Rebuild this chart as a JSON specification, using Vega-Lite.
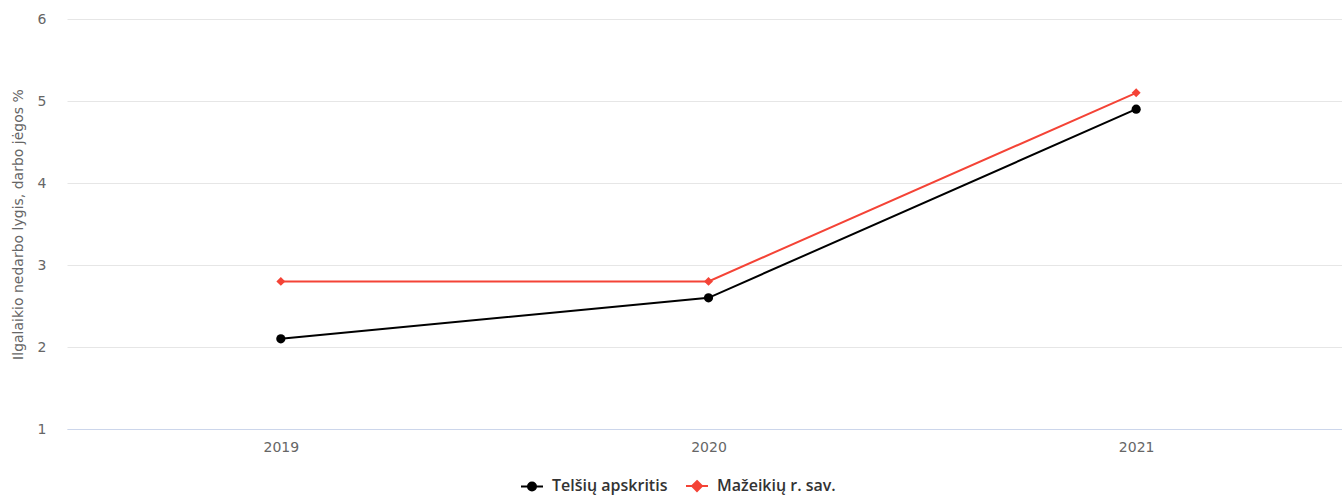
{
  "$schema": "https://vega.github.io/schema/vega-lite/v6.json",
  "autosize": {"type": "none"},
  "padding": {"left": 67, "top": 19, "right": 0, "bottom": 68},
  "width": 1283,
  "height": 410,
  "config": {
    "view": {"stroke": null},
    "font": "DejaVu Sans",
    "axis": {"labelFont": "DejaVu Sans", "titleFont": "DejaVu Sans"}
  },
  "data": {
    "values": [
      {"year": "2019", "series": "Telšių apskritis", "value": 2.1},
      {"year": "2020", "series": "Telšių apskritis", "value": 2.6},
      {"year": "2021", "series": "Telšių apskritis", "value": 4.9},
      {"year": "2019", "series": "Mažeikių r. sav.", "value": 2.8},
      {"year": "2020", "series": "Mažeikių r. sav.", "value": 2.8},
      {"year": "2021", "series": "Mažeikių r. sav.", "value": 5.1}
    ]
  },
  "encoding": {
    "x": {
      "field": "year", "type": "ordinal",
      "scale": {"type": "point", "padding": 0.5},
      "axis": {
        "title": null, "labelAngle": 0, "ticks": false,
        "domainColor": "#ccd6eb", "domainWidth": 1,
        "labelColor": "#666666", "labelFontSize": 14, "labelPadding": 11,
        "grid": false
      }
    },
    "y": {
      "field": "value", "type": "quantitative",
      "scale": {"domain": [1, 6], "nice": false, "zero": false},
      "axis": {
        "title": "Ilgalaikio nedarbo lygis, darbo jėgos %",
        "titleFontSize": 14, "titleFontWeight": "normal", "titleColor": "#666666",
        "titlePadding": 12,
        "values": [1, 2, 3, 4, 5, 6],
        "domain": false, "ticks": false,
        "labelColor": "#666666", "labelFontSize": 14, "labelPadding": 21,
        "gridColor": "#e6e6e6", "gridWidth": 1
      }
    }
  },
  "layer": [
    {
      "transform": [{"filter": "datum.series === 'Telšių apskritis'"}],
      "mark": {"type": "line", "strokeWidth": 2, "color": "#000000"}
    },
    {
      "transform": [{"filter": "datum.series === 'Mažeikių r. sav.'"}],
      "mark": {"type": "line", "strokeWidth": 2, "color": "#f44336"}
    },
    {
      "transform": [{"filter": "datum.series === 'Telšių apskritis'"}],
      "mark": {"type": "point", "filled": true, "shape": "circle", "size": 85, "opacity": 1, "color": "#000000"}
    },
    {
      "transform": [{"filter": "datum.series === 'Mažeikių r. sav.'"}],
      "mark": {"type": "point", "filled": true, "shape": "diamond", "size": 80, "opacity": 1, "color": "#f44336"}
    },
    {
      "mark": {"type": "point", "filled": true, "opacity": 0},
      "encoding": {
        "shape": {
          "field": "series", "type": "nominal",
          "scale": {
            "domain": ["Telšių apskritis", "Mažeikių r. sav."],
            "range": [
              "M-2,0L2,0M0.73,0A0.73,0.73,0,1,1,-0.73,0A0.73,0.73,0,1,1,0.73,0Z",
              "M-2,0L2,0M0,-0.9L0.9,0L0,0.9L-0.9,0Z"
            ]
          },
          "legend": {
            "title": null, "orient": "none", "direction": "horizontal",
            "legendX": 457, "legendY": 459, "padding": 0,
            "symbolSize": 121, "symbolOpacity": 1, "symbolStrokeWidth": 2,
            "symbolOffset": 0, "labelOffset": 12,
            "labelFont": "Open Sans",
            "labelFontSize": 16, "labelFontWeight": 600, "labelColor": "#333333",
            "columnPadding": 14,
            "encode": {"symbols": {"update": {"opacity": {"value": 1}, "strokeWidth": {"value": 2}}}}
          }
        },
        "color": {
          "field": "series", "type": "nominal",
          "scale": {"domain": ["Telšių apskritis", "Mažeikių r. sav."], "range": ["#000000", "#f44336"]}
        },
        "stroke": {
          "field": "series", "type": "nominal",
          "scale": {"domain": ["Telšių apskritis", "Mažeikių r. sav."], "range": ["#000000", "#f44336"]}
        }
      }
    }
  ]
}
